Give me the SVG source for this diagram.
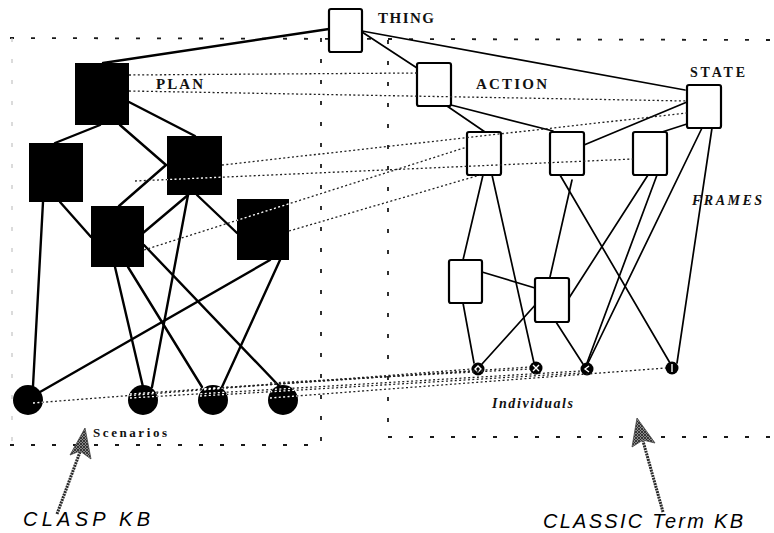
<svg xmlns="http://www.w3.org/2000/svg" width="774" height="533" viewBox="0 0 774 533">
<defs>
<style>
.frame{fill:none;stroke:#1a1a1a;stroke-width:1.8;stroke-dasharray:4 17}
.faint{stroke:#c4c4c4;stroke-width:1.2}
.solid{stroke:#000;stroke-width:2.4;fill:none;stroke-linecap:round}
.thin{stroke:#000;stroke-width:1.7;fill:none;stroke-linecap:round}
.dot{stroke:var(--dc,#222);stroke-width:1.3;stroke-dasharray:2 2.4;fill:none}
.wbox{fill:#fff;stroke:#000;stroke-width:2.2}
.bbox{fill:#000}
.ind{fill:#000}
.mark{stroke:#fff;stroke-width:1.4;fill:none}
.lbl{font-family:"Liberation Serif","Times New Roman",serif;font-weight:bold;fill:#111}
.ital{font-family:"Liberation Serif","Times New Roman",serif;font-weight:bold;font-style:italic;fill:#111}
.kb{font-family:"Liberation Sans",Arial,sans-serif;font-style:italic;font-size:20px;fill:#000}
.shaft{stroke:#2a2a2a;stroke-width:3;stroke-dasharray:2 0.8;fill:none}
.head{fill:url(#hatch);stroke:#444;stroke-width:0.8}
</style>
<pattern id="hatch" width="3" height="3" patternUnits="userSpaceOnUse">
<rect width="3" height="3" fill="#8a8a8a"/>
<path d="M0,0 L3,3 M3,0 L0,3" stroke="#222" stroke-width="0.8"/>
</pattern>
<clipPath id="blk">
<rect x="75" y="63" width="54" height="62"/>
<rect x="29" y="143" width="54" height="59"/>
<rect x="167" y="136" width="55" height="59"/>
<rect x="91" y="206" width="53" height="61"/>
<rect x="237" y="199" width="52" height="61"/>
<circle cx="28" cy="400" r="15"/>
<circle cx="143" cy="400" r="15"/>
<circle cx="213" cy="400" r="15"/>
<circle cx="283" cy="400" r="15"/>
</clipPath>
</defs>

<g id="frames">
<line class="frame" x1="10" y1="38" x2="770" y2="40"/>
<line class="frame faint" x1="12" y1="38" x2="12" y2="445"/>
<line class="frame" x1="321" y1="38" x2="321" y2="445"/>
<line class="frame" x1="10" y1="445" x2="321" y2="445"/>
<line class="frame" x1="388" y1="40" x2="388" y2="437"/>
<line class="frame" x1="388" y1="437" x2="770" y2="437"/>
</g>

<g id="connectors">
<g id="clasp-edges">
<line class="solid" x1="329" y1="29" x2="103" y2="63"/>
<line class="solid" x1="100" y1="125" x2="55" y2="143"/>
<line class="solid" x1="129" y1="102" x2="195" y2="136"/>
<line class="solid" x1="120" y1="125" x2="166" y2="165"/>
<line class="solid" x1="166" y1="165" x2="119" y2="206"/>
<line class="solid" x1="60" y1="202" x2="91" y2="237"/>
<line class="solid" x1="43" y1="202" x2="33" y2="386"/>
<line class="solid" x1="188" y1="195" x2="143" y2="233"/>
<line class="solid" x1="188" y1="195" x2="152" y2="387"/>
<line class="solid" x1="197" y1="195" x2="237" y2="233"/>
<line class="solid" x1="115" y1="267" x2="143" y2="387"/>
<line class="solid" x1="128" y1="267" x2="202" y2="387"/>
<line class="solid" x1="144" y1="245" x2="280" y2="387"/>
<line class="solid" x1="270" y1="260" x2="40" y2="392"/>
<line class="solid" x1="280" y1="260" x2="222" y2="387"/>
</g>
<g id="classic-edges">
<line class="thin" x1="362" y1="32" x2="417" y2="68"/>
<line class="thin" x1="362" y1="31" x2="685" y2="90"/>
<line class="thin" x1="447" y1="106" x2="485" y2="132"/>
<line class="thin" x1="451" y1="105" x2="553" y2="131"/>
<line class="thin" x1="687" y1="102" x2="584" y2="145"/>
<line class="thin" x1="690" y1="123" x2="662" y2="132"/>
<line class="thin" x1="483" y1="175" x2="463" y2="260"/>
<line class="thin" x1="492" y1="175" x2="534" y2="363"/>
<line class="thin" x1="560" y1="175" x2="670" y2="363"/>
<line class="thin" x1="572" y1="180" x2="550" y2="277"/>
<line class="thin" x1="648" y1="175" x2="569" y2="298"/>
<line class="thin" x1="657" y1="175" x2="587" y2="363"/>
<line class="thin" x1="702" y1="128" x2="588" y2="363"/>
<line class="thin" x1="712" y1="128" x2="677" y2="363"/>
<line class="thin" x1="482" y1="272" x2="535" y2="288"/>
<line class="thin" x1="463" y1="303" x2="474" y2="363"/>
<line class="thin" x1="556" y1="322" x2="583" y2="364"/>
<line class="thin" x1="537" y1="303" x2="482" y2="364"/>
</g>
</g>

<g id="node-thing"><rect class="wbox" x="329" y="9" width="33" height="43" rx="2"/><text class="lbl" x="378" y="23" font-size="15" textLength="56" lengthAdjust="spacing">THING</text></g>
<g id="node-plan"><rect class="bbox" x="75" y="63" width="54" height="62"/><text class="lbl" x="156" y="89" font-size="15" textLength="47" lengthAdjust="spacing">PLAN</text></g>
<g id="node-plan-a"><rect class="bbox" x="29" y="143" width="54" height="59"/></g>
<g id="node-plan-b"><rect class="bbox" x="167" y="136" width="55" height="59"/></g>
<g id="node-plan-c"><rect class="bbox" x="91" y="206" width="53" height="61"/></g>
<g id="node-plan-d"><rect class="bbox" x="237" y="199" width="52" height="61"/></g>
<g id="node-s1"><circle class="ind" cx="28" cy="400" r="15"/></g>
<g id="node-s2"><circle class="ind" cx="143" cy="400" r="15"/></g>
<g id="node-s3"><circle class="ind" cx="213" cy="400" r="15"/></g>
<g id="node-s4"><circle class="ind" cx="283" cy="400" r="15"/><text class="lbl" x="93" y="437" font-size="13" textLength="74" lengthAdjust="spacing">Scenarios</text></g>

<g id="node-action"><rect class="wbox" x="417" y="63" width="34" height="43" rx="2"/><text class="lbl" x="476" y="89" font-size="15" textLength="71" lengthAdjust="spacing">ACTION</text></g>
<g id="node-state"><rect class="wbox" x="687" y="85" width="34" height="43" rx="2"/><text class="lbl" x="690" y="77" font-size="14" textLength="55" lengthAdjust="spacing">STATE</text></g>
<g id="node-fa"><rect class="wbox" x="467" y="132" width="34" height="43" rx="2"/></g>
<g id="node-fb"><rect class="wbox" x="550" y="132" width="34" height="43" rx="2"/></g>
<g id="node-fc"><rect class="wbox" x="633" y="132" width="34" height="43" rx="2"/><text class="ital" x="692" y="205" font-size="14" textLength="70" lengthAdjust="spacing">FRAMES</text></g>
<g id="node-fd"><rect class="wbox" x="449" y="260" width="33" height="43" rx="2"/></g>
<g id="node-fe"><rect class="wbox" x="535" y="278" width="34" height="44" rx="2"/></g>
<g id="node-i1"><circle class="ind" cx="478" cy="369" r="6.5"/><path class="mark" d="M478,366 L481,369 L478,372 L475,369 Z"/></g>
<g id="node-i2"><circle class="ind" cx="536" cy="368" r="6.5"/><path class="mark" d="M533,365 L539,371 M539,365 L533,371"/></g>
<g id="node-i3"><circle class="ind" cx="587" cy="369" r="6.5"/><path class="mark" d="M589,366 L585,369 L589,372"/></g>
<g id="node-i4"><circle class="ind" cx="672" cy="368" r="6.5"/><path class="mark" d="M672,364 L672,372"/><text class="ital" x="492" y="408" font-size="14" textLength="81" lengthAdjust="spacing">Individuals</text></g>

<g id="mappings">
<g id="dotted">
<line class="dot" x1="129" y1="75" x2="417" y2="73"/>
<line class="dot" x1="129" y1="91" x2="687" y2="101"/>
<line class="dot" x1="222" y1="165" x2="687" y2="113"/>
<line class="dot" x1="135" y1="181" x2="633" y2="159"/>
<line class="dot" x1="144" y1="250" x2="467" y2="147"/>
<line class="dot" x1="289" y1="231" x2="480" y2="175"/>
<line class="dot" x1="33" y1="403" x2="472" y2="369"/>
<line class="dot" x1="130" y1="394" x2="530" y2="367"/>
<line class="dot" x1="130" y1="398" x2="581" y2="371"/>
<line class="dot" x1="200" y1="389" x2="472" y2="371"/>
<line class="dot" x1="200" y1="396" x2="581" y2="373"/>
<line class="dot" x1="270" y1="383" x2="530" y2="369"/>
<line class="dot" x1="270" y1="398" x2="666" y2="368"/>
</g>
<use href="#dotted" style="--dc:#fff" clip-path="url(#blk)"/>
</g>

<g id="callout-clasp">
<line class="shaft" x1="57" y1="514" x2="80" y2="452"/>
<polygon class="head" points="85,428 91,459 80,451 70,455"/>
<text class="kb" x="23" y="526" textLength="127" lengthAdjust="spacing">CLASP  KB</text>
</g>
<g id="callout-classic">
<line class="shaft" x1="663" y1="512" x2="643" y2="441"/>
<polygon class="head" points="637,418 655,443 643,440 632,447"/>
<text class="kb" x="543" y="528" textLength="200" lengthAdjust="spacing">CLASSIC Term KB</text>
</g>
</svg>
